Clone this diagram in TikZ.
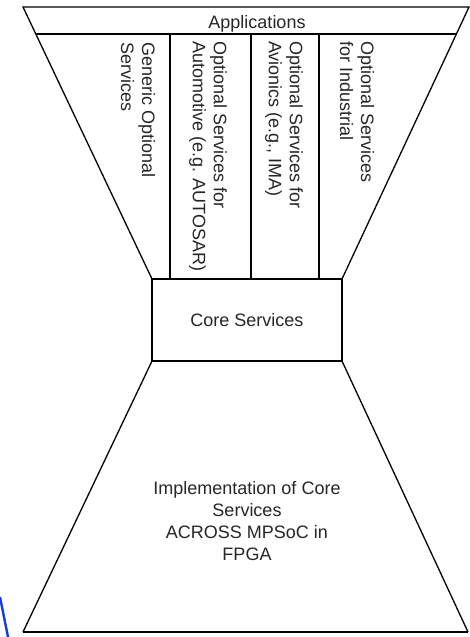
\documentclass[tikz,border=0pt]{standalone}
\usepackage{fontspec}
\setmainfont{Liberation Sans}
\usetikzlibrary{calc}
\begin{document}
\begin{tikzpicture}[x=1pt,y=-1pt,
  edge/.style={line width=1.3pt, line join=miter},
  txt/.style={font=\fontsize{18}{21}\selectfont, text=black!85, inner sep=0pt},
  coltext/.style={txt, rotate=-90, anchor=west, align=left}]
\useasboundingbox (0,0) rectangle (469,637);

% corner points of the two funnels and the core box
\coordinate (TL)  at (23,7);
\coordinate (TR)  at (469,7);
\coordinate (CTL) at (152,279);
\coordinate (CTR) at (342,279);
\coordinate (CBL) at (152,361);
\coordinate (CBR) at (342,361);
\coordinate (BL)  at (23,632);
\coordinate (BR)  at (468,632);

% upper funnel with the application bar
\draw[edge] (CTL) -- (TL) -- (TR) -- (CTR);
\coordinate (AL) at ($(TL)!0.0993!(CTL)$);
\coordinate (AR) at ($(TR)!0.0993!(CTR)$);
\draw[edge] (AL) -- (AR);

% column separators
\foreach \cx in {170,251,319}
  \draw[edge] (\cx,34) -- (\cx,279);

% core box
\draw[edge] (CTL) rectangle (CBR);

% lower funnel
\draw[edge] (CBL) -- (BL);
\draw[edge] (CBR) -- (BR);
\draw[line width=1.8pt] (BL) -- (BR);

% stray blue stroke at the lower left
\draw[line width=2.4pt, draw={rgb,255:red,20;green,60;blue,225}] (0,597) -- (8,637);

% labels
\node[txt, anchor=base] (apps) at (257,28) {Applications};
\node[coltext] (generic) at (138,42) {Generic Optional\\Services};
\node[coltext] (auto) at (208,41) {Optional Services for\\Automotive (e.g. AUTOSAR)};
\node[coltext] (avion) at (284,41) {Optional Services for\\Avionics (e.g., IMA)};
\node[coltext] (indus) at (357,41) {Optional Services\\for Industrial};
\node[txt, anchor=base] (core) at (247,326) {Core Services};
\node[txt, align=center, font=\fontsize{18}{22}\selectfont] (impl) at (247,521)
  {Implementation of Core\\Services\\ACROSS MPSoC in\\FPGA};
\end{tikzpicture}
\end{document}
